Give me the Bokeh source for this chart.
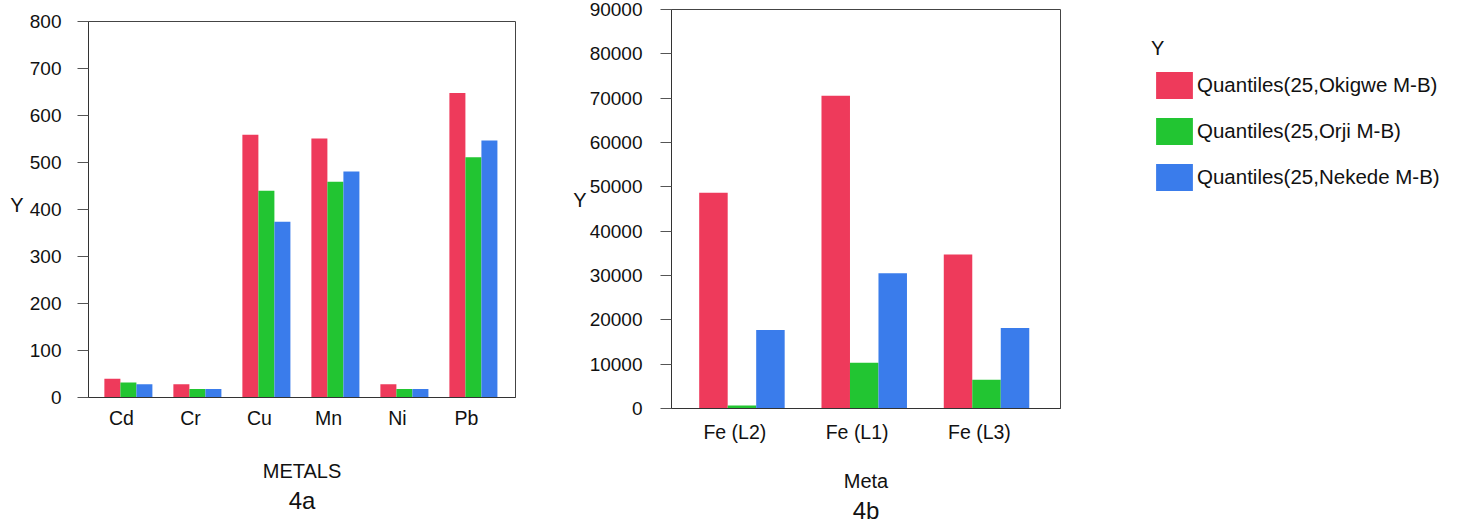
from bokeh.plotting import figure
from bokeh.models import (ColumnDataSource, Legend, LegendItem, Title, LinearAxis,
                          FixedTicker, SingleIntervalTicker, Range1d)
from bokeh.transform import dodge
from bokeh.layouts import row, column
from bokeh.embed import file_html
from bokeh.resources import INLINE

# ---------------- data ----------------
metals_a = ["Cd", "Cr", "Cu", "Mn", "Ni", "Pb"]
okigwe_a = [40, 28, 559, 551, 28, 648]
orji_a = [32, 18, 440, 459, 18, 511]
nekede_a = [28, 18, 374, 481, 18, 547]

metals_b = ["Fe (L2)", "Fe (L1)", "Fe (L3)"]
okigwe_b = [48650, 70570, 34720]
orji_b = [700, 10320, 6480]
nekede_b = [17700, 30500, 18160]

series_names = ["Quantiles(25,Okigwe M-B)", "Quantiles(25,Orji M-B)",
                "Quantiles(25,Nekede M-B)"]
colors = ["#EE3A5B", "#22C532", "#3A7CEB"]

FONT = "Liberation Sans"


def make_chart(cats, vals, frame_w, frame_h, borders, xr, yend, yint, bar_w,
               shift, tick_standoff, ylab_standoff, xlab, xlab_standoff,
               caption, ylab_pos, ylab_standoff2):
    xs = list(range(len(cats)))
    src = ColumnDataSource(dict(x=xs, s0=vals[0], s1=vals[1], s2=vals[2]))
    left, top, right, bottom = borders
    p = figure(frame_width=frame_w, frame_height=frame_h, x_range=Range1d(*xr),
               y_range=Range1d(0, yend), output_backend="svg",
               toolbar_location=None, min_border_left=left, min_border_top=top,
               min_border_right=right, min_border_bottom=bottom)
    rs = []
    for i, col in enumerate(["s0", "s1", "s2"]):
        r = p.vbar(x=dodge("x", shift + (i - 1) * bar_w), top=col, width=bar_w,
                   source=src, fill_color=colors[i], line_color=None)
        rs.append(r)
    p.xgrid.visible = False
    p.ygrid.visible = False
    p.outline_line_color = "#444444"
    p.outline_line_width = 1
    p.background_fill_color = "white"
    p.border_fill_color = "white"

    # x axis
    xa = p.xaxis[0]
    xa.ticker = FixedTicker(ticks=xs)
    xa.major_label_overrides = {i: c for i, c in enumerate(cats)}
    xa.major_tick_out = 0
    xa.major_tick_in = 0
    xa.minor_tick_out = 0
    xa.major_label_standoff = tick_standoff
    xa.major_label_text_font = FONT
    xa.major_label_text_font_size = "19.5px"
    xa.major_label_text_color = "#111111"
    xa.axis_line_color = "#333333"
    xa.axis_label = xlab
    xa.axis_label_text_font = FONT
    xa.axis_label_text_font_size = "20px"
    xa.axis_label_text_font_style = "normal"
    xa.axis_label_text_color = "#111111"
    xa.axis_label_standoff = xlab_standoff

    # y axis
    ya = p.yaxis[0]
    ya.ticker = SingleIntervalTicker(interval=yint, num_minor_ticks=0)
    ya.major_tick_out = 11
    ya.major_tick_in = 0
    ya.minor_tick_out = 0
    ya.minor_tick_in = 0
    ya.major_tick_line_color = "#555555"
    ya.axis_line_color = "#333333"
    ya.major_label_standoff = ylab_standoff
    ya.major_label_text_font = FONT
    ya.major_label_text_font_size = "19px"
    ya.major_label_text_color = "#111111"
    ya.formatter.use_scientific = False

    # horizontal "Y" axis title, drawn as the single label of an outer axis
    yl = LinearAxis(ticker=FixedTicker(ticks=[ylab_pos]),
                    major_label_overrides={ylab_pos: "Y"},
                    axis_line_color=None, major_tick_line_color=None,
                    minor_tick_line_color=None, major_tick_out=0,
                    major_tick_in=0, minor_tick_out=0, minor_tick_in=0,
                    major_label_standoff=ylab_standoff2,
                    major_label_text_font=FONT,
                    major_label_text_font_size="20px",
                    major_label_text_color="#111111")
    p.add_layout(yl, "left")

    p.add_layout(Title(text=caption, align="center", text_font=FONT,
                       text_font_size="24px", text_font_style="normal",
                       text_color="#111111", standoff=0), "below")
    return p, rs


pa, _ = make_chart(metals_a, [okigwe_a, orji_a, nekede_a], 427, 376,
                   (88, 21, 20, 130), (-0.478, 5.71), 800, 100, 0.232, 0.1,
                   9, 16, "METALS", 28, "4a", 409, 3)

pb, rsb = make_chart(metals_b, [okigwe_b, orji_b, nekede_b], 389, 399,
                     (136, 9, 0, 119), (-0.518, 2.663), 90000, 10000, 0.233,
                     0.058, 12, 18, "Meta", 24, "4b", 47000, 0)

legend = Legend(items=[LegendItem(label=n, renderers=[r])
                       for n, r in zip(series_names, rsb)],
                location=(91, 214), title="Y", title_text_font=FONT,
                title_text_font_size="20px", title_text_font_style="normal",
                title_text_color="#111111", title_standoff=8,
                label_text_font=FONT, label_text_font_size="20.5px",
                label_text_color="#111111", glyph_width=46, glyph_height=34,
                label_standoff=0, spacing=12, padding=0, margin=0,
                border_line_color=None, background_fill_alpha=0)
pb.add_layout(legend, "right")

layout = row(column(pa), column(pb))
open("out.html", "w").write(file_html(layout, INLINE))
